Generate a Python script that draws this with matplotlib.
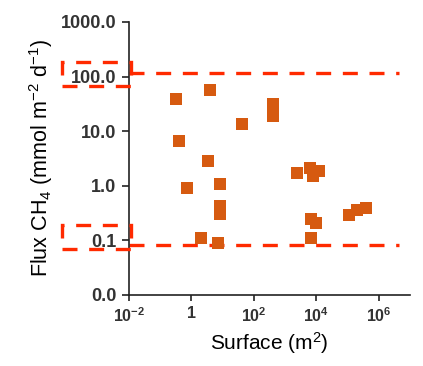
import numpy as np
import matplotlib
matplotlib.use("Agg")
import matplotlib.pyplot as plt
from matplotlib.patches import Rectangle
from matplotlib.ticker import FixedLocator, FuncFormatter, NullLocator

plt.rcParams['font.family'] = ['Liberation Sans', 'DejaVu Sans']
plt.rcParams['mathtext.default'] = 'regular'

# surface (m2) and CH4 flux (mmol m-2 d-1)
surface = [0.31, 3.9, 400, 420, 43, 0.41, 3.5, 0.71, 8.2,
           2400, 6500, 7700, 12300,
           8.0, 8.0, 2.1, 6.9,
           6600, 10000, 6600,
           110000, 200000, 400000]
flux = [39, 57, 31, 18.6, 13.4, 6.6, 2.9, 0.91, 1.08,
        1.7, 2.1, 1.5, 1.9,
        0.42, 0.30, 0.11, 0.089,
        0.25, 0.21, 0.11,
        0.29, 0.36, 0.39]

upper_limit = 116
lower_limit = 0.082

x_ticks = [1e-2, 1, 1e2, 1e4, 1e6]
x_ticklabels = ['10$^{-2}$', '1', '10$^{2}$', '10$^{4}$', '10$^{6}$']
y_ticks = [0.01, 0.1, 1, 10, 100, 1000]

red = '#ff2a00'
orange = '#d65a10'

fig = plt.figure(figsize=(4.23, 3.66), dpi=100)
ax = fig.add_axes([0.305, 0.194, 0.664, 0.746])

ax.scatter(surface, flux, marker='s', s=80, color=orange, zorder=3, linewidths=0)

ax.set_xscale('log')
ax.set_yscale('log')
ax.set_xlim(1e-2, 1e7)
ax.set_ylim(0.01, 1000)

ax.axhline(upper_limit, xmin=0, xmax=0.96, color=red, lw=2.4, dashes=(4.5, 3.5), zorder=2)
ax.axhline(lower_limit, xmin=0, xmax=0.96, color=red, lw=2.4, dashes=(4.5, 3.5), zorder=2)

# dashed boxes around the 100.0 and 0.1 tick labels
trans = ax.get_yaxis_transform()
for lo, hi in [(68, 186), (0.069, 0.19)]:
    box = Rectangle((-0.238, lo), 0.245, hi - lo, transform=trans, fill=False,
                    edgecolor=red, lw=2.4, linestyle=(0, (4.5, 3.5)), clip_on=False, zorder=4)
    ax.add_patch(box)

ax.xaxis.set_major_locator(FixedLocator(x_ticks))
ax.set_xticklabels(x_ticklabels)
ax.xaxis.set_minor_locator(NullLocator())
ax.yaxis.set_major_locator(FixedLocator(y_ticks))
ax.yaxis.set_major_formatter(FuncFormatter(lambda v, p: '%.1f' % v))
ax.yaxis.set_minor_locator(NullLocator())

for s in ['top', 'right']:
    ax.spines[s].set_visible(False)
for s in ['left', 'bottom']:
    ax.spines[s].set_linewidth(1.2)
    ax.spines[s].set_color('#222222')

ax.tick_params(axis='y', labelsize=13, length=5, width=1.2, colors='#222222', pad=4)
ax.tick_params(axis='x', labelsize=11.5, length=4, width=1.2, colors='#222222', pad=4)
for lab in ax.get_yticklabels():
    lab.set_fontweight('bold')
    lab.set_color('#333333')
for lab in ax.get_xticklabels():
    lab.set_fontweight('bold')
    lab.set_color('#333333')

ax.set_xlabel('Surface (m$^2$)', fontsize=15, labelpad=4)
ax.set_ylabel('Flux CH$_4$ (mmol m$^{-2}$ d$^{-1}$)', fontsize=15.5, labelpad=4)

fig.savefig('out.png', dpi=100)
